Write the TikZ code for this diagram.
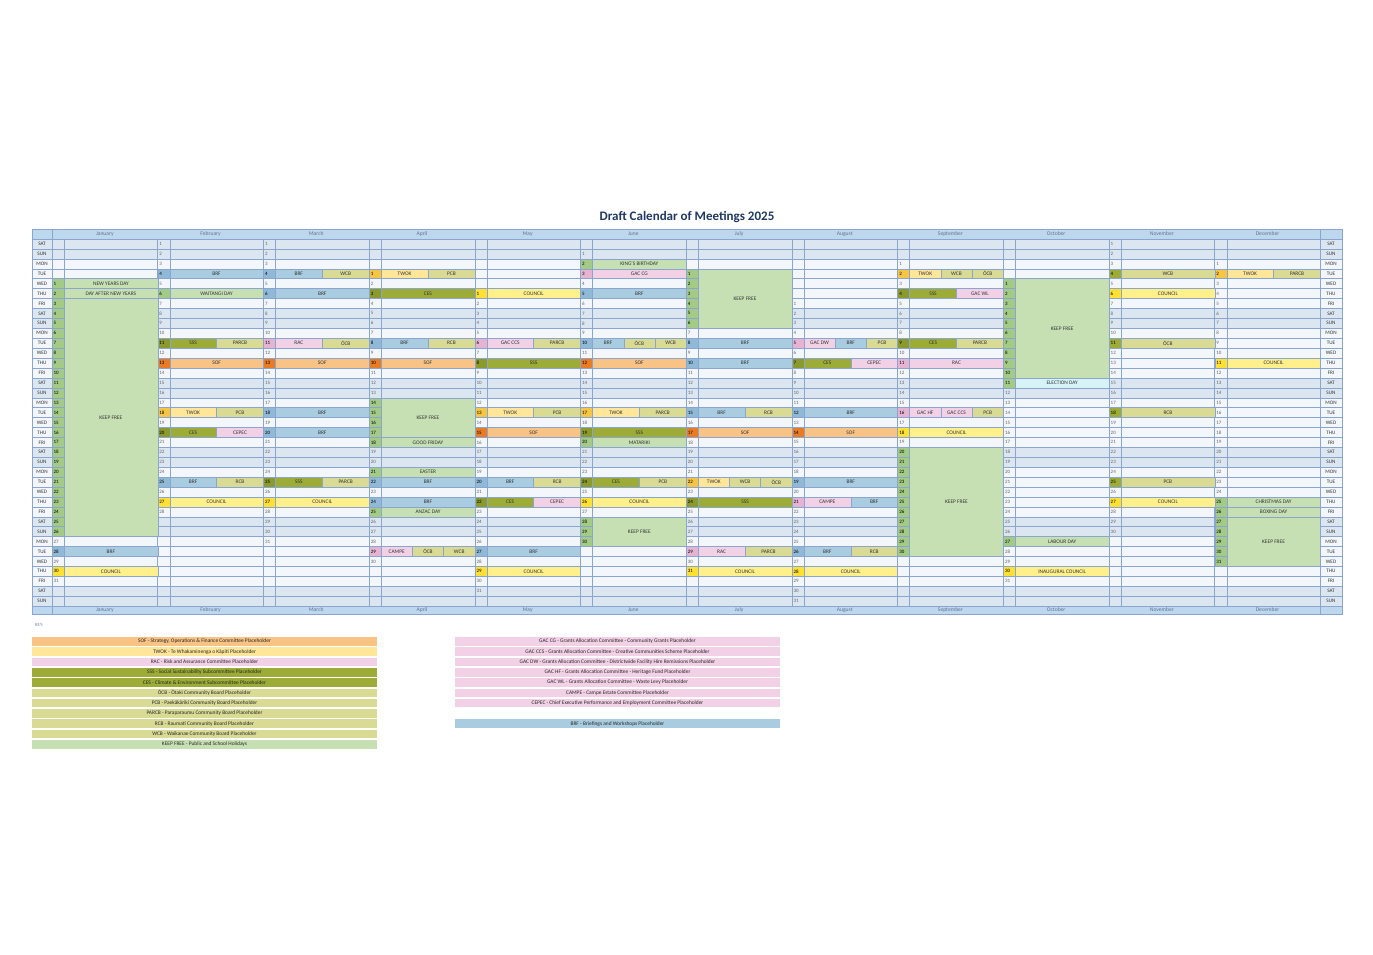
\documentclass[tikz,border=0pt]{standalone}
\usepackage{fontspec}
\setmainfont{Carlito}
\usepackage{tikz}
\usetikzlibrary{calc}
\definecolor{gridc}{HTML}{8AA6CE}
\definecolor{wkend}{HTML}{DCE6F0}
\definecolor{wkday}{HTML}{F3F6FA}
\definecolor{headc}{HTML}{BDD7EE}
\definecolor{titlec}{HTML}{1F3864}
\definecolor{sof}{HTML}{F8C384}\definecolor{sofd}{HTML}{E97B23}
\definecolor{twok}{HTML}{FFE699}\definecolor{twokd}{HTML}{F6C544}
\definecolor{cnl}{HTML}{FFF08C}\definecolor{cnld}{HTML}{FFE033}
\definecolor{pink}{HTML}{F2D0E6}\definecolor{pinkd}{HTML}{E6B3D3}
\definecolor{sss}{HTML}{9CAC36}\definecolor{sssd}{HTML}{8B9A2C}
\definecolor{cb}{HTML}{D9DB95}\definecolor{cbd}{HTML}{9CAC36}
\definecolor{brf}{HTML}{A9CCE0}\definecolor{brfd}{HTML}{8FB9D6}
\definecolor{kf}{HTML}{C6E0B4}\definecolor{kfd}{HTML}{A3CB86}
\definecolor{elec}{HTML}{D6F4F8}\definecolor{elecd}{HTML}{A3CB86}
\def\offs{{3,-1,-1,2,4,0,2,5,1,3,-1,1}}
\newcommand{\daypos}[2]{\pgfmathsetmacro\xa{52+(#1-1)*105.7}\pgfmathsetmacro\ya{239+(\offs[#1-1]+#2)*9.92}}
\newcommand{\numcell}[2]{\filldraw[fill=#2,draw=gridc,line width=0.4pt] (\xa,\ya) rectangle ++(12,9.92); \node[numtxt,text=black] at (\xa+1.5,\ya+4.96) {#1};}
\newcommand{\evone}[4]{\daypos{#1}{#2}\numcell{#2}{#3d}
  \filldraw[fill=#3,draw=gridc,line width=0.4pt] (\xa+12,\ya) rectangle (\xa+105.7,\ya+9.92); \node[evtxt] at (\xa+58.85,\ya+4.96) {#4};}
\newcommand{\evtwo}[6]{\daypos{#1}{#2}\numcell{#2}{#3d}
  \filldraw[fill=#3,draw=gridc,line width=0.4pt] (\xa+12,\ya) rectangle (\xa+58.85,\ya+9.92); \node[evtxt] at (\xa+35.4,\ya+4.96) {#4};
  \filldraw[fill=#5,draw=gridc,line width=0.4pt] (\xa+58.85,\ya) rectangle (\xa+105.7,\ya+9.92); \node[evtxt] at (\xa+82.3,\ya+4.96) {#6};}
\newcommand{\evthree}[8]{\daypos{#1}{#2}\numcell{#2}{#3d}
  \filldraw[fill=#3,draw=gridc,line width=0.4pt] (\xa+12,\ya) rectangle (\xa+43.23,\ya+9.92); \node[evtxt] at (\xa+27.6,\ya+4.96) {#4};
  \filldraw[fill=#5,draw=gridc,line width=0.4pt] (\xa+43.23,\ya) rectangle (\xa+74.47,\ya+9.92); \node[evtxt] at (\xa+58.85,\ya+4.96) {#6};
  \filldraw[fill=#7,draw=gridc,line width=0.4pt] (\xa+74.47,\ya) rectangle (\xa+105.7,\ya+9.92); \node[evtxt] at (\xa+90.1,\ya+4.96) {#8};}
\newcommand{\kblock}[4]{\foreach \d in {#2,...,#3} {\daypos{#1}{\d}\numcell{\d}{kfd}}
  \pgfmathsetmacro\xa{52+(#1-1)*105.7}\pgfmathsetmacro\ya{239+(\offs[#1-1]+#2)*9.92}\pgfmathsetmacro\yb{239+(\offs[#1-1]+#3+1)*9.92}
  \filldraw[fill=kf,draw=gridc,line width=0.4pt] (\xa+12,\ya) rectangle (\xa+105.7,\yb); \node[evtxt] at (\xa+58.85,{(\ya+\yb)/2}) {#4};}
\newcommand{\keyrow}[5]{\fill[#4] (#1,#2) rectangle ++(#3,8.6); \node[keytxt] at (#1+#3/2,#2+4.3) {#5};}

\begin{document}
\begin{tikzpicture}[x=1pt,y=-1pt,
  numtxt/.style={anchor=west,inner sep=0pt,font=\fontsize{5}{5}\selectfont,text=black!60},
  evtxt/.style={inner sep=0pt,font=\fontsize{5.4}{5}\selectfont,text=black!80},
  daytxt/.style={inner sep=0pt,font=\fontsize{5.2}{5}\selectfont,text=black!80},
  montxt/.style={inner sep=0pt,font=\fontsize{5.6}{5}\selectfont,text=titlec!70},
  keytxt/.style={inner sep=0pt,font=\fontsize{5.4}{5}\selectfont,text=black!85}]
\useasboundingbox (0,0) rectangle (1373,955);
\fill[white] (0,0) rectangle (1373,955);
\node[font=\bfseries\fontsize{13}{13}\selectfont,text=titlec] (title) at (687,217) {Draft Calendar of Meetings 2025};
% header and footer rows
\fill[headc] (32,229) rectangle (1342,239);
\fill[headc] (32,606) rectangle (1342,614);
\foreach \mn [count=\i from 0] in {January,February,March,April,May,June,July,August,September,October,November,December} {
  \node[montxt] at (52+\i*105.7+52.85,234) {\mn};
  \node[montxt] at (52+\i*105.7+52.85,610) {\mn};
}
% day rows
\foreach \r in {0,...,36} {
  \pgfmathsetmacro\yr{239+\r*9.92}
  \pgfmathtruncatemacro\w{mod(\r,7)}
  \ifnum\w<2 \def\rc{wkend}\else\def\rc{wkday}\fi
  \fill[\rc] (32,\yr) rectangle (1342,\yr+9.92);
  \pgfmathsetmacro\dn{{"SAT","SUN","MON","TUE","WED","THU","FRI"}[\w]}
  \node[daytxt] at (42,\yr+4.96) {\dn};
  \node[daytxt] at (1331,\yr+4.96) {\dn};
}
% grid
\foreach \r in {0,...,37} \draw[gridc,line width=0.4pt] (32,239+\r*9.92) -- (1342,239+\r*9.92);
\foreach \xx in {32,52,1320,1342} \draw[gridc,line width=0.5pt] (\xx,229) -- (\xx,614);
\foreach \i in {0,...,11} {
  \draw[gridc,line width=0.5pt] (52+\i*105.7,239) -- (52+\i*105.7,606);
  \draw[gridc,line width=0.4pt] (64+\i*105.7,239) -- (64+\i*105.7,606);
}
\draw[gridc,line width=0.6pt] (32,229) rectangle (1342,614);
% day numbers
\foreach \m/\n in {1/31,2/28,3/31,4/30,5/31,6/30,7/31,8/31,9/30,10/31,11/30,12/31}
  \foreach \d in {1,...,\n} {\daypos{\m}{\d}\node[numtxt] at (\xa+1.5,\ya+4.96) {\d};}
% January
\evone{1}{1}{kf}{NEW YEARS DAY}
\evone{1}{2}{kf}{DAY AFTER NEW YEARS}
\kblock{1}{3}{26}{KEEP FREE}
\evone{1}{28}{brf}{BRF}
\evone{1}{30}{cnl}{COUNCIL}
% February
\evone{2}{4}{brf}{BRF}
\evone{2}{6}{kf}{WAITANGI DAY}
\evtwo{2}{11}{sss}{SSS}{cb}{PARCB}
\evone{2}{13}{sof}{SOF}
\evtwo{2}{18}{twok}{TWOK}{cb}{PCB}
\evtwo{2}{20}{sss}{CES}{pink}{CEPEC}
\evtwo{2}{25}{brf}{BRF}{cb}{RCB}
\evone{2}{27}{cnl}{COUNCIL}
% March
\evtwo{3}{4}{brf}{BRF}{cb}{WCB}
\evone{3}{6}{brf}{BRF}
\evtwo{3}{11}{pink}{RAC}{cb}{ŌCB}
\evone{3}{13}{sof}{SOF}
\evone{3}{18}{brf}{BRF}
\evone{3}{20}{brf}{BRF}
\evtwo{3}{25}{sss}{SSS}{cb}{PARCB}
\evone{3}{27}{cnl}{COUNCIL}
% April
\evtwo{4}{1}{twok}{TWOK}{cb}{PCB}
\evone{4}{3}{sss}{CES}
\evtwo{4}{8}{brf}{BRF}{cb}{RCB}
\evone{4}{10}{sof}{SOF}
\kblock{4}{14}{17}{KEEP FREE}
\evone{4}{18}{kf}{GOOD FRIDAY}
\evone{4}{21}{kf}{EASTER}
\evone{4}{22}{brf}{BRF}
\evone{4}{24}{brf}{BRF}
\evone{4}{25}{kf}{ANZAC DAY}
\evthree{4}{29}{pink}{CAMPE}{cb}{ŌCB}{cb}{WCB}
% May
\evone{5}{1}{cnl}{COUNCIL}
\evtwo{5}{6}{pink}{GAC CCS}{cb}{PARCB}
\evone{5}{8}{sss}{SSS}
\evtwo{5}{13}{twok}{TWOK}{cb}{PCB}
\evone{5}{15}{sof}{SOF}
\evtwo{5}{20}{brf}{BRF}{cb}{RCB}
\evtwo{5}{22}{sss}{CES}{pink}{CEPEC}
\evone{5}{27}{brf}{BRF}
\evone{5}{29}{cnl}{COUNCIL}
% June
\evone{6}{2}{kf}{KING'S BIRTHDAY}
\evone{6}{3}{pink}{GAC CG}
\evone{6}{5}{brf}{BRF}
\evthree{6}{10}{brf}{BRF}{cb}{ŌCB}{cb}{WCB}
\evone{6}{12}{sof}{SOF}
\evtwo{6}{17}{twok}{TWOK}{cb}{PARCB}
\evone{6}{19}{sss}{SSS}
\evone{6}{20}{kf}{MATARIKI}
\evtwo{6}{24}{sss}{CES}{cb}{PCB}
\evone{6}{26}{cnl}{COUNCIL}
\kblock{6}{28}{30}{KEEP FREE}
% July
\kblock{7}{1}{6}{KEEP FREE}
\evone{7}{8}{brf}{BRF}
\evone{7}{10}{brf}{BRF}
\evtwo{7}{15}{brf}{BRF}{cb}{RCB}
\evone{7}{17}{sof}{SOF}
\evthree{7}{22}{twok}{TWOK}{cb}{WCB}{cb}{ŌCB}
\evone{7}{24}{sss}{SSS}
\evtwo{7}{29}{pink}{RAC}{cb}{PARCB}
\evone{7}{31}{cnl}{COUNCIL}
% August
\evthree{8}{5}{pink}{GAC DW}{brf}{BRF}{cb}{PCB}
\evtwo{8}{7}{sss}{CES}{pink}{CEPEC}
\evone{8}{12}{brf}{BRF}
\evone{8}{14}{sof}{SOF}
\evone{8}{19}{brf}{BRF}
\evtwo{8}{21}{pink}{CAMPE}{brf}{BRF}
\evtwo{8}{26}{brf}{BRF}{cb}{RCB}
\evone{8}{28}{cnl}{COUNCIL}
% September
\evthree{9}{2}{twok}{TWOK}{cb}{WCB}{cb}{ŌCB}
\evtwo{9}{4}{sss}{SSS}{pink}{GAC WL}
\evtwo{9}{9}{sss}{CES}{cb}{PARCB}
\evone{9}{11}{pink}{RAC}
\evthree{9}{16}{pink}{GAC HF}{pink}{GAC CCS}{cb}{PCB}
\evone{9}{18}{cnl}{COUNCIL}
\kblock{9}{20}{30}{KEEP FREE}
% October
\kblock{10}{1}{10}{KEEP FREE}
\evone{10}{11}{elec}{ELECTION DAY}
\evone{10}{27}{kf}{LABOUR DAY}
\evone{10}{30}{cnl}{INAUGURAL COUNCIL}
% November
\evone{11}{4}{cb}{WCB}
\evone{11}{6}{cnl}{COUNCIL}
\evone{11}{11}{cb}{ŌCB}
\evone{11}{18}{cb}{RCB}
\evone{11}{25}{cb}{PCB}
\evone{11}{27}{cnl}{COUNCIL}
% December
\evtwo{12}{2}{twok}{TWOK}{cb}{PARCB}
\evone{12}{11}{cnl}{COUNCIL}
\evone{12}{25}{kf}{CHRISTMAS DAY}
\evone{12}{26}{kf}{BOXING DAY}
\kblock{12}{27}{31}{KEEP FREE}
% key
\node[anchor=west,inner sep=0pt,font=\fontsize{4.8}{5}\selectfont,text=titlec!60] (key) at (35,625) {KEY:};
\keyrow{32}{637}{345}{sof}{SOF - Strategy, Operations \& Finance Committee Placeholder}
\keyrow{32}{647.3}{345}{twok}{TWOK - Te Whakaminenga o Kāpiti Placeholder}
\keyrow{32}{657.6}{345}{pink}{RAC - Risk and Assurance Committee Placeholder}
\keyrow{32}{667.9}{345}{sss}{SSS - Social Sustainability Subcommittee Placeholder}
\keyrow{32}{678.2}{345}{sss}{CES - Climate \& Environment Subcommittee Placeholder}
\keyrow{32}{688.5}{345}{cb}{ŌCB - Ōtaki Community Board Placeholder}
\keyrow{32}{698.8}{345}{cb}{PCB - Paekākāriki Community Board Placeholder}
\keyrow{32}{709.1}{345}{cb}{PARCB - Paraparaumu Community Board Placeholder}
\keyrow{32}{719.4}{345}{cb}{RCB - Raumati Community Board Placeholder}
\keyrow{32}{729.7}{345}{cb}{WCB - Waikanae Community Board Placeholder}
\keyrow{32}{740}{345}{kf}{KEEP FREE - Public and School Holidays}
\keyrow{455}{637}{325}{pink}{GAC CG - Grants Allocation Committee - Community Grants Placeholder}
\keyrow{455}{647.3}{325}{pink}{GAC CCS - Grants Allocation Committee - Creative Communities Scheme Placeholder}
\keyrow{455}{657.6}{325}{pink}{GAC DW - Grants Allocation Committee - Districtwide Facility Hire Remissions Placeholder}
\keyrow{455}{667.9}{325}{pink}{GAC HF - Grants Allocation Committee - Heritage Fund Placeholder}
\keyrow{455}{678.2}{325}{pink}{GAC WL - Grants Allocation Committee - Waste Levy Placeholder}
\keyrow{455}{688.5}{325}{pink}{CAMPE - Campe Estate Committee Placeholder}
\keyrow{455}{698.8}{325}{pink}{CEPEC - Chief Executive Performance and Employment Committee Placeholder}
\keyrow{455}{719.4}{325}{brf}{BRF -  Briefings and Workshops Placeholder}
\end{tikzpicture}
\end{document}
